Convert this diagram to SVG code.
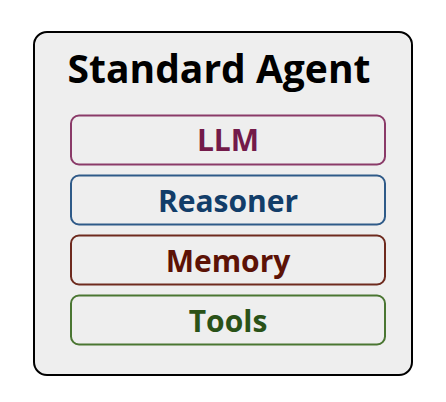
<svg xmlns="http://www.w3.org/2000/svg" width="446" height="402" viewBox="0 0 446 402">
<style>
.outer{fill:#eeeeee;stroke:#000;stroke-width:2}
.box{fill:none;stroke-width:2}
.lbl{font-family:"Open Sans",Lato,"DejaVu Sans",sans-serif;font-weight:bold;font-size:30px;text-anchor:middle}
.title{font-family:"Open Sans",Lato,"DejaVu Sans",sans-serif;font-weight:bold;font-size:39px;text-anchor:middle;fill:#000}
</style>
<rect width="446" height="402" fill="#ffffff"/>
<g id="agent">
<rect class="outer" x="34" y="32" width="378" height="343" rx="13"/>
<text class="title" x="219" y="83">Standard Agent</text>
</g>
<g id="llm">
<rect class="box" x="71" y="115.5" width="314" height="49" rx="8" stroke="#8a3a68"/>
<text class="lbl" x="228" y="151" fill="#731a4a">LLM</text>
</g>
<g id="reasoner">
<rect class="box" x="71" y="175.5" width="314" height="49" rx="8" stroke="#2e5a88"/>
<text class="lbl" x="228" y="211.5" fill="#123d69">Reasoner</text>
</g>
<g id="memory">
<rect class="box" x="71" y="235.5" width="314" height="49" rx="8" stroke="#6e2a1e"/>
<text class="lbl" x="228" y="271.5" fill="#5c1206">Memory</text>
</g>
<g id="tools">
<rect class="box" x="71" y="295.5" width="314" height="49" rx="8" stroke="#4a7632"/>
<text class="lbl" x="228" y="331.5" fill="#2a5218">Tools</text>
</g>
<g id="connectors"></g>
</svg>
